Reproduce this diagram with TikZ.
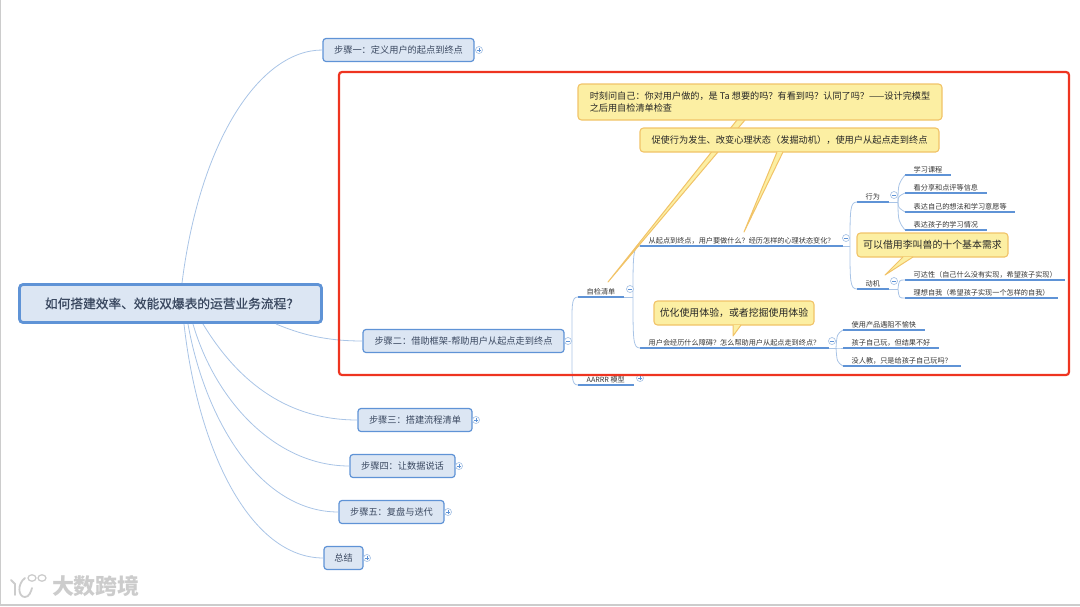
\documentclass[tikz,border=0pt]{standalone}
\usepackage{fontspec}
\setmainfont{Noto Sans CJK SC}
\usetikzlibrary{positioning}
\usetikzlibrary{calc}
\definecolor{linkblue}{HTML}{A9C4E6}
\definecolor{lineblue}{HTML}{5F93D6}
\definecolor{boxblue}{HTML}{DCE6F3}
\definecolor{inkblue}{HTML}{3A4860}
\definecolor{notefill}{HTML}{FCEFA3}
\definecolor{noteline}{HTML}{F1C368}
\definecolor{alertred}{HTML}{EE3420}
\tikzset{
	rootbox/.style = {draw = lineblue, line width = 2.8pt, fill = boxblue, rounded corners = 3.5pt, minimum width = 302pt, minimum height = 38pt, text = inkblue, font = \fontsize{12.7}{14}\selectfont\addfontfeature{FakeBold = 0.6}, inner sep = 0pt},
	stepbox/.style = {draw = lineblue, line width = 1.2pt, fill = boxblue, rounded corners = 3pt, minimum height = 23pt, text = inkblue, font = \fontsize{9.2}{10}\selectfont, inner xsep = 0pt, inner ysep = 0pt},
	leaf/.style = {anchor = south west, inner xsep = 8.5pt, inner ysep = 1.5pt, text = black!80, font = \fontsize{7.15}{8}\selectfont},
	uline/.style = {draw = lineblue, line width = 1.3pt},
	branch/.style = {draw = linkblue, line width = 0.8pt},
	fold/.style = {circle, draw = linkblue, fill = white, line width = 0.7pt, minimum size = 7pt, inner sep = 0pt},
	notebox/.style = {draw = noteline, line width = 1.1pt, fill = notefill, rounded corners = 3.5pt, text = black!85, inner sep = 0pt},
	tailfill/.style = {fill = notefill},
	tailline/.style = {draw = noteline, line width = 1pt, line join = round},
	foldmark/.style = {draw = lineblue, line width = 0.5pt}
}
\begin{document}
\begin{tikzpicture}[x = 1pt, y = -1pt]
	\useasboundingbox (0, 0) rectangle (1080, 606);
	\draw[black!20, line width = 1.2pt] (0.5, 0) -- (0.5, 605) -- (1080, 605);

	% Root and first level
	\node[rootbox] (root) at (170.5, 303.5) {\hspace*{3pt}如何搭建效率、效能双爆表的运营业务流程？};
	\node[stepbox, minimum width = 151pt] (s1) at (398.5, 50) {步骤一：定义用户的起点到终点};
	\node[stepbox, minimum width = 201pt] (s2) at (463.5, 341) {步骤二：借助框架-帮助用户从起点走到终点};
	\node[stepbox, minimum width = 114pt] (s3) at (415, 420) {步骤三：搭建流程清单};
	\node[stepbox, minimum width = 105pt] (s4) at (402.5, 466) {步骤四：让数据说话};
	\node[stepbox, minimum width = 105pt] (s5) at (391.5, 512) {步骤五：复盘与迭代};
	\node[stepbox, minimum width = 39pt] (s6) at (343.5, 558) {总结};
	% Where the links leave the root
	\coordinate (r1) at (182, 283);
	\coordinate (r2) at (276, 324);
	\coordinate (r3) at (203, 324);
	\coordinate (r4) at (193, 324);
	\coordinate (r5) at (188, 324);
	\coordinate (r6) at (184, 324);
	\draw[branch] (r1) .. controls (200, 140) and (260, 50) .. (s1.west);
	\draw[branch] (r2) .. controls (300, 334) and (325, 341) .. (s2.west);
	\draw[branch] (r3) .. controls (240, 385) and (290, 420) .. (s3.west);
	\draw[branch] (r4) .. controls (215, 400) and (275, 466) .. (s4.west);
	\draw[branch] (r5) .. controls (205, 420) and (260, 512) .. (s5.west);
	\draw[branch] (r6) .. controls (198, 450) and (250, 558) .. (s6.west);

	% Second level
	\node[leaf] (check) at (578, 297) {自检清单};
	\node[leaf] (aarrr) at (578, 385) {AARRR 模型};
	\node[leaf] (todo) at (640, 246) {从起点到终点，用户要做什么？经历怎样的心理状态变化？};
	\node[leaf] (block) at (640, 348) {用户会经历什么障碍？怎么帮助用户从起点走到终点？};
	\node[leaf] (act) at (857, 202) {行为};
	\node[leaf] (motive) at (857, 289) {动机};
	% Leaves
	\node[leaf] (a1) at (905, 175) {学习课程};
	\node[leaf] (a2) at (905, 193) {看分享和点评等信息};
	\node[leaf] (a3) at (905, 212) {表达自己的想法和学习意愿等};
	\node[leaf] (a4) at (905, 230) {表达孩子的学习情况};
	\node[leaf] (m1) at (905, 280) {可达性（自己什么没有实现，希望孩子实现）};
	\node[leaf] (m2) at (905, 298) {理想自我（希望孩子实现一个怎样的自我）};
	\node[leaf] (b1) at (843, 330) {使用产品遇阻不愉快};
	\node[leaf] (b2) at (843, 348) {孩子自己玩，但结果不好};
	\node[leaf] (b3) at (843, 366) {没人教，只是给孩子自己玩吗？};
	\foreach \n in {check, aarrr, todo, block, act, motive, a1, a2, a3, a4, m1, m2, b1, b2, b3}
		\draw[uline] (\n.south west) -- (\n.south east);

	% Links between levels
	\coordinate (s2out) at (572, 341);
	\coordinate (checkout) at (633, 297);
	\coordinate (todoout) at (850, 246);
	\coordinate (blockout) at (836, 348);
	\coordinate (actout) at (898, 202);
	\coordinate (motiveout) at (898, 289);
	\draw[branch] (s2out) .. controls (572, 305) and (571, 297) .. (check.south west);
	\draw[branch] (s2out) .. controls (572, 377) and (571, 385) .. (aarrr.south west);
	\draw[branch] (check.south east) -- (checkout);
	\draw[branch] (checkout) .. controls (633, 255) and (633, 246) .. (todo.south west);
	\draw[branch] (checkout) .. controls (633, 340) and (633, 348) .. (block.south west);
	\draw[branch] (todo.south east) -- (todoout);
	\draw[branch] (todoout) .. controls (850, 210) and (850, 202) .. (act.south west);
	\draw[branch] (todoout) .. controls (850, 281) and (850, 289) .. (motive.south west);
	\draw[branch] (act.south east) -- (actout);
	\foreach \n/\y in {a1/183, a2/196, a3/208, a4/222}
		\draw[branch] (actout) .. controls (898, \y) and (899, \y) .. (\n.south west);
	\draw[branch] (motive.south east) -- (motiveout);
	\foreach \n/\y in {m1/280, m2/298}
		\draw[branch] (motiveout) .. controls (899, \y) and (899, \y) .. (\n.south west);
	\draw[branch] (block.south east) -- (blockout);
	\foreach \n/\y in {b1/334, b2/348, b3/362}
		\draw[branch] (blockout) .. controls (837, \y) and (837, \y) .. (\n.south west);

	% Fold marks
	\foreach \n/\x/\y/\s in {f1/479/50/p, f2/568/341/m, f3/476/420/p, f4/459/466/p, f5/448/512/p, f6/367/558/p, f7/630/289/m, f8/640/378/p, f9/846/238/m, f10/894/195/m, f11/894/281/m, f12/832/341/m} {
		\node[fold] (\n) at (\x, \y) {};
		\draw[foldmark] ($(\n.center)+(-1.8, 0)$) -- ($(\n.center)+(1.8, 0)$);
		\if\s p
			\draw[foldmark] ($(\n.center)+(0, -1.8)$) -- ($(\n.center)+(0, 1.8)$);
		\fi
	}

	% Notes
	\coordinate (na1) at (737, 120);
	\coordinate (na2) at (745, 120);
	\coordinate (natip) at (608, 282);
	\fill[tailfill] (na1) -- (natip) -- (na2) -- cycle;
	\draw[tailline] (na1) -- (natip) -- (na2);
	\node[notebox, minimum width = 364pt, minimum height = 36pt, align = left, font = \fontsize{9.15}{12}\selectfont] (na) at (760, 102) {时刻问自己：你对用户做的，是 Ta 想要的吗？有看到吗？认同了吗？——设计完模型\\之后用自检清单检查};

	\node[notebox, minimum width = 299pt, minimum height = 24pt, font = \fontsize{9.2}{11}\selectfont] (nb) at (789.5, 140) {促使行为发生、改变心理状态（发掘动机），使用户从起点走到终点};
	\coordinate (nb1) at (777, 152);
	\coordinate (nb2) at (783, 152);
	\coordinate (nbtip) at (744, 232);
	\fill[tailfill] (nb1) -- (nbtip) -- (nb2) -- cycle;
	\draw[tailline] (nb1) -- (nbtip) -- (nb2);

	\node[notebox, minimum width = 151pt, minimum height = 24pt, font = \fontsize{9.9}{11}\selectfont] (nc) at (932.5, 245) {可以借用李叫兽的十个基本需求};
	\coordinate (nc1) at (903, 257);
	\coordinate (nc2) at (913, 257);
	\coordinate (nctip) at (885, 275);
	\fill[tailfill] (nc1) -- (nctip) -- (nc2) -- cycle;
	\draw[tailline] (nc1) -- (nctip) -- (nc2);

	\node[notebox, minimum width = 160pt, minimum height = 24pt, font = \fontsize{9.9}{11}\selectfont] (nd) at (734, 313) {优化使用体验，或者挖掘使用体验};
	\coordinate (nd1) at (733, 325);
	\coordinate (nd2) at (741, 325);
	\coordinate (ndtip) at (733, 336);
	\fill[tailfill] (nd1) -- (ndtip) -- (nd2) -- cycle;
	\draw[tailline] (nd1) -- (ndtip) -- (nd2);

	% Red frame
	\draw[alertred, line width = 2.2pt, rounded corners = 3pt] (339, 72) rectangle (1069, 375);

	% Watermark
	\node[text = black!20, font = \fontsize{22}{23}\selectfont\bfseries, inner sep = 0pt] (brand) at (96, 586) {大数跨境};
	\draw[black!20, line width = 1.8pt, line cap = round] (11, 580) -- (15, 584) -- (15, 595);
	\draw[black!20, line width = 1.8pt, line cap = round] (25, 578) .. controls (17, 584) and (18, 597) .. (25, 597) .. controls (29, 597) and (31, 592) .. (32, 588);
	\draw[black!20, line width = 1.3pt] (32, 578) ellipse (4 and 3.2);
	\draw[black!20, line width = 1.3pt] (42, 578) ellipse (4 and 3.2);
\end{tikzpicture}
\end{document}
